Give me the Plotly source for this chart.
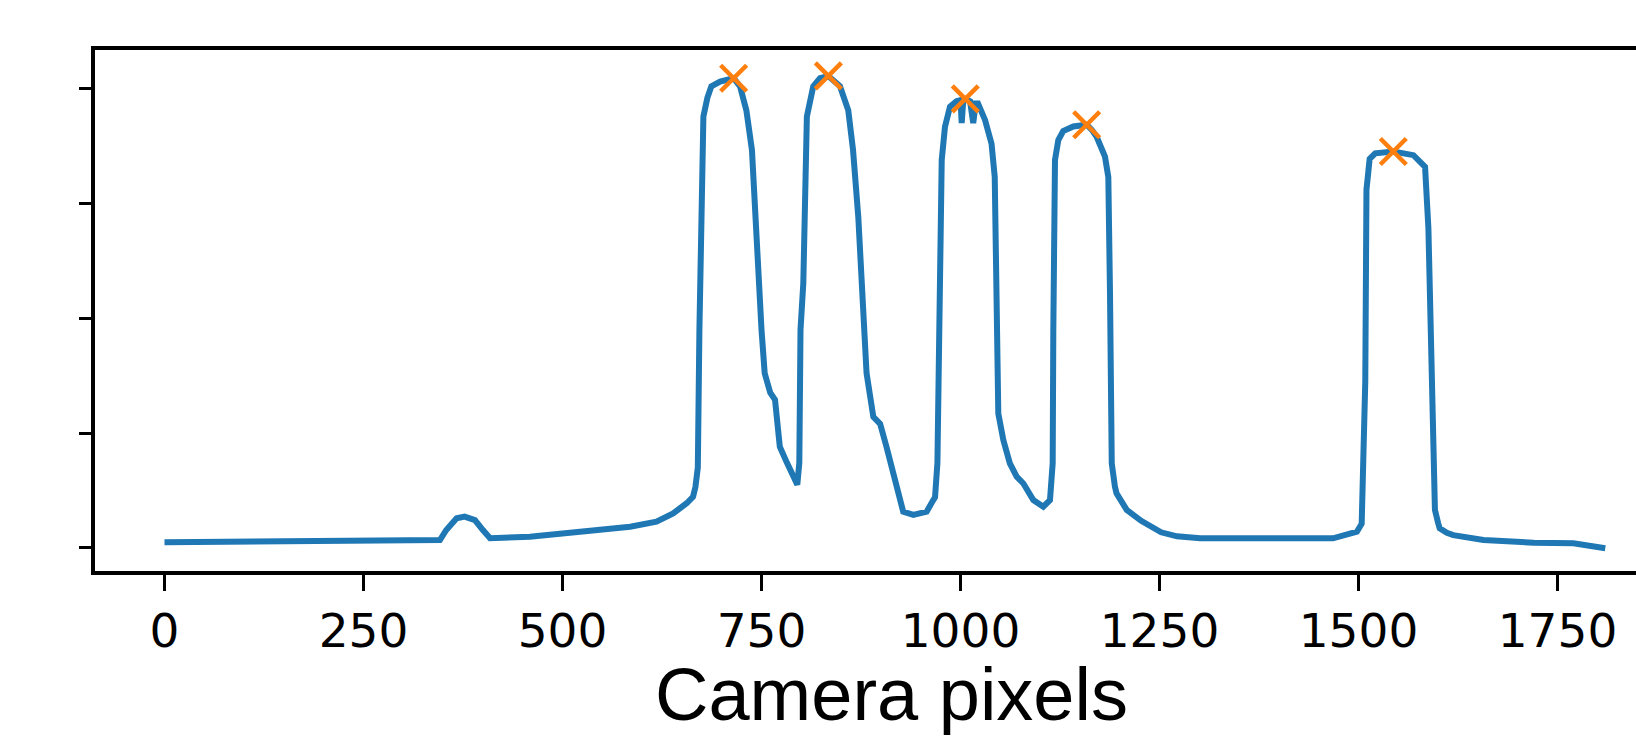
import plotly.graph_objects as go

# Spectrum trace (camera pixel, intensity in arbitrary units)
pixel = [0, 100, 200, 270, 346, 354, 367, 377, 390, 400, 409, 459, 522, 585, 618, 639, 656, 664,
         667, 670, 672, 673, 675, 677, 682, 687, 698, 706, 715, 723, 731, 738, 742, 746, 750, 754,
         761, 767, 773, 782, 790, 795, 797.5, 799, 802.5, 804.6, 807, 815, 823.5, 834, 848.6, 859,
         865, 871.6, 876, 878, 882, 890.5, 899, 907, 915.6, 928, 940.7, 957.5, 965.8, 968, 971,
         972.5, 974, 976.4, 980.5, 986.8, 995, 1000, 1001.5, 1003.5, 1006, 1012, 1016, 1019, 1022,
         1030.8, 1039, 1043, 1044.6, 1045.5, 1047.5, 1053.8, 1062, 1070.6, 1079, 1091.5, 1104,
         1112.4, 1115.8, 1116.6, 1117, 1118.7, 1122.9, 1129, 1141.7, 1150, 1158.5, 1165, 1171,
         1181.5, 1185.7, 1187.8, 1188.5, 1190, 1194, 1196, 1208.8, 1227, 1252, 1272, 1301, 1400,
         1468, 1498, 1502, 1504, 1506, 1508.5, 1510, 1514, 1521, 1543.7, 1569, 1583.6, 1587.8,
         1594, 1596, 1600, 1602, 1611, 1619, 1657, 1720, 1770, 1803, 1810]
intensity = [0.048, 0.052, 0.058, 0.065, 0.068, 0.155, 0.257, 0.272, 0.242, 0.155, 0.083, 0.097,
             0.14, 0.184, 0.227, 0.30, 0.388, 0.445, 0.53, 0.70, 1.9, 2.3, 3.465, 3.755, 3.92,
             4.02, 4.06, 4.08, 4.09, 4.02, 3.81, 3.465, 2.88, 2.30, 1.90, 1.52, 1.35, 1.29, 0.88,
             0.74, 0.62, 0.55, 0.74, 1.9, 2.30, 3.465, 3.755, 4.02, 4.09, 4.11, 4.02, 3.81, 3.465,
             2.88, 2.30, 1.90, 1.52, 1.14, 1.08, 0.88, 0.65, 0.315, 0.286, 0.315, 0.416, 0.44,
             0.74, 1.9, 2.217, 3.378, 3.668, 3.842, 3.89, 3.90, 3.70, 3.90, 3.91, 3.89, 3.70, 3.87,
             3.87, 3.727, 3.52, 3.23, 2.217, 1.897, 1.17, 0.939, 0.736, 0.62, 0.56, 0.416, 0.358,
             0.416, 0.736, 1.897, 2.217, 3.378, 3.552, 3.63, 3.67, 3.68, 3.685, 3.64, 3.58, 3.407,
             3.23, 2.217, 1.897, 0.736, 0.532, 0.475, 0.33, 0.235, 0.135, 0.10, 0.083, 0.08, 0.083,
             0.14, 0.18, 0.21, 0.765, 1.45, 3.12, 3.387, 3.436, 3.452, 3.42, 3.318, 2.785, 0.78,
             0.33, 0.216, 0.17, 0.13, 0.11, 0.068, 0.044, 0.039, 0.004, -0.004]

# Detected peaks
peak_pixel = [715, 834, 1006, 1158.5, 1543.7]
peak_intensity = [4.09, 4.11, 3.91, 3.685, 3.452]

x_ticks = [0, 250, 500, 750, 1000, 1250, 1500, 1750]
y_ticks = [0, 1, 2, 3, 4]

fig = go.Figure()
fig.add_trace(go.Scatter(x=pixel, y=intensity, mode="lines",
                         line=dict(color="#1f77b4", width=6), showlegend=False))
fig.add_trace(go.Scatter(x=peak_pixel, y=peak_intensity, mode="markers",
                         marker=dict(symbol="x-thin", size=26,
                                     line=dict(color="#ff7f0e", width=4.5), color="#ff7f0e"),
                         showlegend=False))

fig.update_layout(
    width=1636, height=742,
    margin=dict(l=95, r=0, t=50, b=171),
    plot_bgcolor="white", paper_bgcolor="white",
    xaxis=dict(range=[-87.3, 1848.6], tickvals=x_ticks, ticktext=[str(v) for v in x_ticks],
               showgrid=False, zeroline=False, showline=True, mirror=True,
               linecolor="black", linewidth=4, ticks="outside", ticklen=16, tickwidth=3,
               tickcolor="black",
               tickfont=dict(family="DejaVu Sans", size=47, color="black")),
    yaxis=dict(range=[-0.202, 4.336], tickvals=y_ticks, showticklabels=False,
               showgrid=False, zeroline=False, showline=True, mirror=False,
               linecolor="black", linewidth=4, ticks="outside", ticklen=12, tickwidth=3,
               tickcolor="black"),
    annotations=[dict(text="Camera pixels", xref="paper", yref="paper",
                      x=0.517, y=-0.238, xanchor="center", yanchor="middle",
                      showarrow=False,
                      font=dict(family="Liberation Sans", size=74, color="black"))],
)

fig.write_html("out.html")
